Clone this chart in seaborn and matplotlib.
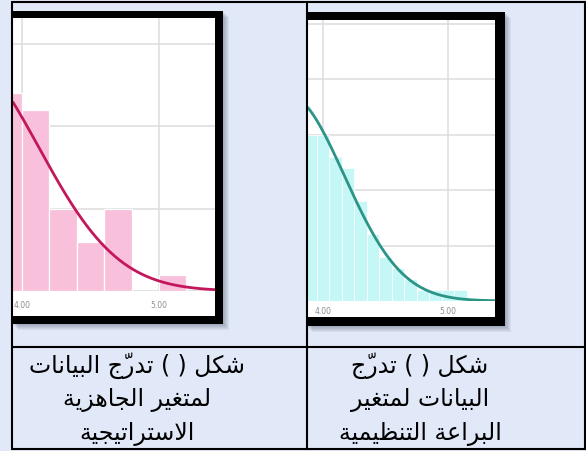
import numpy as np
import matplotlib
matplotlib.use("Agg")
import matplotlib.pyplot as plt
from matplotlib.patches import Rectangle
from matplotlib.lines import Line2D
import seaborn as sns

# ---------------- data ----------------
# Strategic readiness (left panel): bin centres, counts and the normal fit
ready_centers = [3.9, 4.1, 4.3, 4.5, 4.7, 4.9, 5.1, 5.3]
ready_counts = [12, 11, 5, 3, 5, 0, 1, 0]
ready_binwidth = 0.2
ready_mean, ready_sd, ready_n = 3.54, 0.58, 105

# Organisational agility (right panel)
agile_centers = [3.9, 4.0, 4.1, 4.2, 4.3, 4.4, 4.5, 4.6, 4.7, 4.8, 4.9, 5.0, 5.1, 5.2, 5.3]
agile_counts = [15, 15, 13, 12, 9, 6, 4, 3, 2, 1, 1, 1, 1, 0, 0]
agile_binwidth = 0.1
agile_mean, agile_sd, agile_n = 3.71, 0.46, 215

tick_values = [4.0, 5.0]
tick_labels = ["4.00", "5.00"]

caption_left = ["شكل ( ) تدرّج البيانات", "لمتغير الجاهزية", "الاستراتيجية"]
caption_right = ["شكل ( ) تدرّج", "البيانات لمتغير", "البراعة التنظيمية"]

# ---------------- Arabic shaping helper ----------------
FORMS = {
    'ا': ('\uFE8D', '\uFE8E', None, None),
    'ب': ('\uFE8F', '\uFE90', '\uFE91', '\uFE92'),
    'ت': ('\uFE95', '\uFE96', '\uFE97', '\uFE98'),
    'ة': ('\uFE93', '\uFE94', None, None),
    'ج': ('\uFE9D', '\uFE9E', '\uFE9F', '\uFEA0'),
    'د': ('\uFEA9', '\uFEAA', None, None),
    'ر': ('\uFEAD', '\uFEAE', None, None),
    'ز': ('\uFEAF', '\uFEB0', None, None),
    'س': ('\uFEB1', '\uFEB2', '\uFEB3', '\uFEB4'),
    'ش': ('\uFEB5', '\uFEB6', '\uFEB7', '\uFEB8'),
    'ظ': ('\uFEC5', '\uFEC6', '\uFEC7', '\uFEC8'),
    'ع': ('\uFEC9', '\uFECA', '\uFECB', '\uFECC'),
    'غ': ('\uFECD', '\uFECE', '\uFECF', '\uFED0'),
    'ك': ('\uFED9', '\uFEDA', '\uFEDB', '\uFEDC'),
    'ل': ('\uFEDD', '\uFEDE', '\uFEDF', '\uFEE0'),
    'م': ('\uFEE1', '\uFEE2', '\uFEE3', '\uFEE4'),
    'ن': ('\uFEE5', '\uFEE6', '\uFEE7', '\uFEE8'),
    'ه': ('\uFEE9', '\uFEEA', '\uFEEB', '\uFEEC'),
    'ي': ('\uFEF1', '\uFEF2', '\uFEF3', '\uFEF4'),
}
MARKS = {'\u0651'}
LAM_ALEF = ('\uFEFB', '\uFEFC')
MIRROR = {'(': ')', ')': '('}


def shape_rtl(text):
    """Join Arabic letters into presentation forms and return visual (LTR) order."""
    clusters = []
    chars = list(text)
    i = 0
    while i < len(chars):
        c = chars[i]
        if c in MARKS and clusters:
            clusters[-1][1] += c
        elif c == 'ل' and i + 1 < len(chars) and chars[i + 1] == 'ا':
            clusters.append(['لا', ''])
            i += 1
        else:
            clusters.append([c, ''])
        i += 1

    def is_letter(b):
        return b == 'لا' or b in FORMS

    def joins_next(b):
        return b in FORMS and FORMS[b][2] is not None

    out = []
    for k, (base, marks) in enumerate(clusters):
        if not is_letter(base):
            out.append(MIRROR.get(base, base) + marks)
            continue
        prev_ok = k > 0 and joins_next(clusters[k - 1][0])
        next_ok = joins_next(base) and k + 1 < len(clusters) and is_letter(clusters[k + 1][0])
        if base == 'لا':
            glyph = LAM_ALEF[1] if prev_ok else LAM_ALEF[0]
        else:
            iso, fin, ini, med = FORMS[base]
            if prev_ok and next_ok:
                glyph = med
            elif prev_ok:
                glyph = fin
            elif next_ok:
                glyph = ini
            else:
                glyph = iso
        # zero-width marks are drawn first so they sit over the following base glyph
        out.append(marks + glyph)
    return ''.join(reversed(out))


# ---------------- figure ----------------
sns.set_style("white")
plt.rcParams['font.family'] = ['DejaVu Sans']

W, H = 586, 452
fig = plt.figure(figsize=(W / 100, H / 100), dpi=100)
fig.patch.set_facecolor('#e1e8f7')


def fx(px):
    return px / W


def fy(py):
    return 1 - py / H


def fig_rect(x0, y0, x1, y1, **kw):
    r = Rectangle((fx(x0), fy(y1)), fx(x1) - fx(x0), fy(y0) - fy(y1),
                  transform=fig.transFigure, **kw)
    fig.add_artist(r)
    return r


def framed_panel(frame, white):
    fx0, fy0, fx1, fy1 = frame
    for i in range(1, 7):
        fig_rect(fx0 + i, fy0 + i, fx1 + i, fy1 + i, facecolor='#3a4660',
                 edgecolor='none', alpha=0.07, zorder=-4)
    fig_rect(*frame, facecolor='black', edgecolor='none', zorder=-3)
    fig_rect(*white, facecolor='white', edgecolor='none', zorder=-2)


def histogram_panel(box, xlim, ymax, centers, counts, bw, mean, sd, n,
                    bar_color, line_color, ystep, label_pad, edge_lw):
    x0, y0, x1, y1 = box
    ax = fig.add_axes([fx(x0), fy(y1), fx(x1) - fx(x0), fy(y0) - fy(y1)])
    ax.set_facecolor('none')
    lo = centers[0] - bw / 2
    hi = centers[-1] + bw / 2
    sns.histplot(x=centers, weights=counts, binwidth=bw, binrange=(lo, hi),
                 color=bar_color, alpha=1, edgecolor='white', linewidth=edge_lw,
                 ax=ax, zorder=2)
    xs = np.linspace(xlim[0], xlim[1], 400)
    ys = n * bw * np.exp(-0.5 * ((xs - mean) / sd) ** 2) / (sd * np.sqrt(2 * np.pi))
    sns.lineplot(x=xs, y=ys, color=line_color, linewidth=2.0, ax=ax, zorder=3)
    ax.set_xlim(*xlim)
    ax.set_ylim(0, ymax)
    ax.set_xlabel('')
    ax.set_ylabel('')
    for s in ax.spines.values():
        s.set_visible(False)
    ax.set_yticks(np.arange(ystep, ymax, ystep))
    ax.set_yticklabels([])
    ax.set_xticks(tick_values)
    ax.set_xticklabels(tick_labels)
    ax.tick_params(axis='both', length=0)
    ax.tick_params(axis='x', labelsize=5.5, labelcolor='#8c8c8c', pad=label_pad)
    ax.grid(True, color='#dcdcdc', linewidth=1.1, zorder=0)
    ax.set_axisbelow(True)
    ax.axhline(0, color='#d9d4d7', linewidth=1.2, zorder=1)
    return ax


# left panel: strategic readiness
framed_panel((12, 12, 223, 325), (13, 19, 215, 317))
histogram_panel((13, 19, 215, 292), (4 + (13 - 22) / 137, 4 + (215 - 22) / 137),
                273 / 16.47, ready_centers, ready_counts, ready_binwidth,
                ready_mean, ready_sd, ready_n,
                '#f9c0dc', '#c2185b', 5, 6.5, 0.9)

# right panel: organisational agility
framed_panel((306, 13, 505, 327), (308, 21, 495, 318))
histogram_panel((308, 21, 495, 302), (4 + (308 - 323) / 125, 4 + (495 - 323) / 125),
                281 / 11.1, agile_centers, agile_counts, agile_binwidth,
                agile_mean, agile_sd, agile_n,
                '#c6f7f7', '#2b9486', 5, 3.5, 0.5)

# table rules
def hline(y, x0, x1):
    fig.add_artist(Line2D([fx(x0), fx(x1)], [fy(y), fy(y)], transform=fig.transFigure,
                          color='black', linewidth=1.5, zorder=5))


def vline(x, y0, y1):
    fig.add_artist(Line2D([fx(x), fx(x)], [fy(y0), fy(y1)], transform=fig.transFigure,
                          color='black', linewidth=1.5, zorder=5))


hline(3, 12, 586)
hline(348, 12, 586)
hline(450, 12, 586)
vline(12, 3, 450)
vline(307, 3, 450)
vline(584.5, 3, 450)

# captions
line_y = [366, 400, 434]
for txt, y in zip(caption_left, line_y):
    fig.text(fx(137), fy(y), shape_rtl(txt), ha='center', va='center',
             fontsize=17, color='black', zorder=6)
for txt, y in zip(caption_right, line_y):
    fig.text(fx(420), fy(y), shape_rtl(txt), ha='center', va='center',
             fontsize=17, color='black', zorder=6)

fig.savefig('out.png', dpi=100, facecolor=fig.get_facecolor())
